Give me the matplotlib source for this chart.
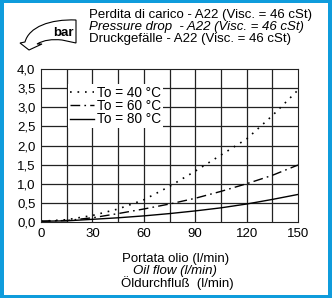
import matplotlib
matplotlib.use("Agg")
import matplotlib.pyplot as plt
from matplotlib.path import Path
from matplotlib.patches import PathPatch, Rectangle

plt.rcParams['font.family'] = ['Liberation Sans', 'DejaVu Sans']

flow = [0, 15, 30, 45, 60, 75, 90, 105, 120, 135, 150]
dp_40 = [0.02, 0.06, 0.17, 0.34, 0.58, 0.93, 1.33, 1.75, 2.17, 2.78, 3.45]
dp_60 = [0.02, 0.04, 0.11, 0.22, 0.34, 0.47, 0.62, 0.80, 1.00, 1.22, 1.49]
dp_80 = [0.02, 0.03, 0.07, 0.11, 0.16, 0.22, 0.29, 0.37, 0.47, 0.59, 0.72]
labels = ['To = 40 °C', 'To = 60 °C', 'To = 80 °C']
xticks = [0, 30, 60, 90, 120, 150]
xgrid = [15, 30, 45, 60, 75, 90, 105, 120, 135]
yticks = [0.0, 0.5, 1.0, 1.5, 2.0, 2.5, 3.0, 3.5, 4.0]
title_lines = ['Perdita di carico - A22 (Visc. = 46 cSt)',
               'Pressure drop  - A22 (Visc. = 46 cSt)',
               'Druckgefälle - A22 (Visc. = 46 cSt)']
xlabel_lines = ['Portata olio (l/min)', 'Oil flow (l/min)', 'Öldurchfluß  (l/min)']

W, H = 332, 298
fig = plt.figure(figsize=(W / 100, H / 100), dpi=100)

# main axes
ax = fig.add_axes([41 / W, (H - 222) / H, 257 / W, 153 / H])
ax.set_xlim(0, 150)
ax.set_ylim(0, 4.0)
ax.set_xticks(xticks)
ax.set_yticks(yticks)
ax.set_xticklabels([str(v) for v in xticks], fontsize=9.5)
ax.set_yticklabels([f'{v:.1f}'.replace('.', ',') for v in yticks], fontsize=9.5)
ax.tick_params(which='both', length=0, pad=4)
for s in ax.spines.values():
    s.set_color('#222222')
    s.set_linewidth(0.8)
for xv in xgrid:
    ax.axvline(xv, color='#222222', linewidth=0.9)
for yv in yticks[1:-1]:
    ax.axhline(yv, color='#222222', linewidth=0.9)

l1, = ax.plot(flow, dp_40, color='black', lw=1.2, linestyle=(0, (1, 3.5)))
l2, = ax.plot(flow, dp_60, color='black', lw=1.0, linestyle=(0, (7, 3, 1.2, 3)))
l3, = ax.plot(flow, dp_80, color='black', lw=1.0, linestyle='-')

leg = ax.legend([l1, l2, l3], labels, loc='upper left', bbox_to_anchor=(0.107, 0.90),
                fontsize=9.8, frameon=True, fancybox=False, framealpha=1,
                edgecolor='none', handlelength=1.8, handletextpad=0.2,
                labelspacing=-0.05, borderpad=0.1, borderaxespad=0)
leg.get_frame().set_linewidth(0)

# overlay in figure pixel coords (no background)
ov = fig.add_axes([0, 0, 1, 1], zorder=-1)
ov.set_xlim(0, W)
ov.set_ylim(H, 0)
ov.axis('off')
blue = '#0f9cdc'
ov.add_patch(Rectangle((0, 0), W, 3, color=blue, lw=0))
ov.add_patch(Rectangle((0, 0), 4, H, color=blue, lw=0))
ov.add_patch(Rectangle((W - 4, 0), 4, H, color=blue, lw=0))
ov.add_patch(Rectangle((0, H - 3), W, 3, color=blue, lw=0))

ov.text(89, 15, title_lines[0], fontsize=9.5, va='center', ha='left')
ov.text(89, 27, title_lines[1], fontsize=9.5, va='center', ha='left', style='italic')
ov.text(89, 39, title_lines[2], fontsize=9.5, va='center', ha='left')

verts = [(76, 20),
         (50, 19), (29, 27), (25, 42),
         (20, 43),
         (29, 50),
         (42, 44),
         (37, 44),
         (44, 40), (52, 39), (62, 40),
         (76, 43),
         (76, 20)]
codes = [Path.MOVETO,
         Path.CURVE4, Path.CURVE4, Path.CURVE4,
         Path.LINETO, Path.LINETO, Path.LINETO, Path.LINETO,
         Path.CURVE4, Path.CURVE4, Path.CURVE4,
         Path.LINETO, Path.CLOSEPOLY]
ov.add_patch(PathPatch(Path(verts, codes), facecolor='white', edgecolor='black', lw=0.8))
ov.text(63, 33, 'bar', fontsize=9.5, fontweight='bold', ha='center', va='center')

ov.text(176, 259, xlabel_lines[0], fontsize=9.5, ha='center', va='center')
ov.text(175, 271, xlabel_lines[1], fontsize=9.5, ha='center', va='center', style='italic')
ov.text(177, 283, xlabel_lines[2], fontsize=9.5, ha='center', va='center')

fig.savefig('out.png', dpi=100)
